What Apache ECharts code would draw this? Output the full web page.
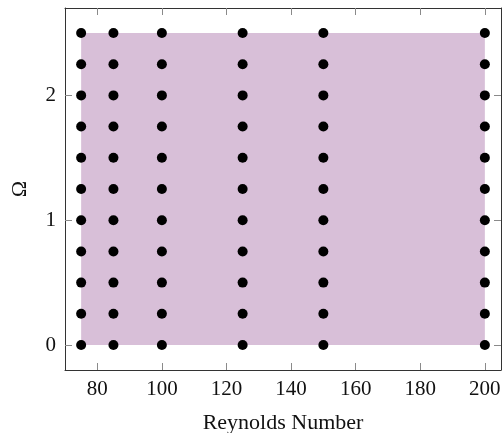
<!DOCTYPE html>
<html>
<head>
<meta charset="utf-8">
<script src="https://cdn.jsdelivr.net/npm/echarts@6/dist/echarts.min.js"></script>
<style>
  html, body { margin: 0; padding: 0; background: #fff; }
  #chart { width: 504px; height: 433px; }
</style>
</head>
<body>
<div id="chart"></div>
<script>
// Sample grid: Reynolds numbers and rotation rates that were simulated
const reynolds = [75, 85, 100, 125, 150, 200];
const omega = [0, 0.25, 0.5, 0.75, 1, 1.25, 1.5, 1.75, 2, 2.25, 2.5];
const xTicks = [80, 100, 120, 140, 160, 180, 200];
const yTicks = [0, 1, 2];

const points = [];
reynolds.forEach(re => omega.forEach(w => points.push([re, w])));

const reMin = Math.min(...reynolds), reMax = Math.max(...reynolds);
const wMin = Math.min(...omega), wMax = Math.max(...omega);

const font = 'Liberation Serif';
const lineColor = '#333';
const tickColor = '#8a8a8a';

function axisBase(extra) {
  return Object.assign({
    type: 'value',
    splitLine: { show: false },
    axisLine: { show: true, onZero: false, lineStyle: { color: lineColor, width: 1 } },
  }, extra);
}

const chart = echarts.init(document.getElementById('chart'));
chart.setOption({
  animation: false,
  grid: { left: 65, right: 3, top: 8, bottom: 63, containLabel: false, outerBoundsMode: 'none' },
  xAxis: [
    axisBase({
      min: 70, max: 205, position: 'bottom',
      name: 'Reynolds Number', nameLocation: 'middle', nameGap: 42,
      nameTextStyle: { fontFamily: font, fontSize: 22, color: '#111' },
      axisTick: { inside: true, length: 7, customValues: xTicks, lineStyle: { color: tickColor } },
      axisLabel: { customValues: xTicks, margin: 9, fontFamily: font, fontSize: 21, color: '#111' }
    }),
    axisBase({
      min: 70, max: 205, position: 'top',
      axisTick: { inside: true, length: 7, customValues: xTicks, lineStyle: { color: tickColor } },
      axisLabel: { show: false }
    })
  ],
  yAxis: [
    axisBase({
      min: -0.2, max: 2.7, position: 'left',
      name: 'Ω', nameLocation: 'middle', nameGap: 34, nameRotate: 90,
      nameTextStyle: { fontFamily: font, fontSize: 22, color: '#111' },
      axisTick: { inside: true, length: 7, customValues: yTicks, lineStyle: { color: tickColor } },
      axisLabel: { customValues: yTicks, margin: 9, fontFamily: font, fontSize: 21, color: '#111' }
    }),
    axisBase({
      min: -0.2, max: 2.7, position: 'right',
      axisTick: { inside: true, length: 7, customValues: yTicks, lineStyle: { color: tickColor } },
      axisLabel: { show: false }
    })
  ],
  series: [{
    type: 'scatter',
    xAxisIndex: 0, yAxisIndex: 0,
    data: points,
    symbol: 'circle',
    symbolSize: 10,
    itemStyle: { color: '#000', opacity: 1 },
    z: 3,
    markArea: {
      silent: true,
      itemStyle: { color: '#d8bfd8', opacity: 1 },
      data: [[{ coord: [reMin, wMin] }, { coord: [reMax, wMax] }]]
    }
  }]
});
</script>
</body>
</html>
